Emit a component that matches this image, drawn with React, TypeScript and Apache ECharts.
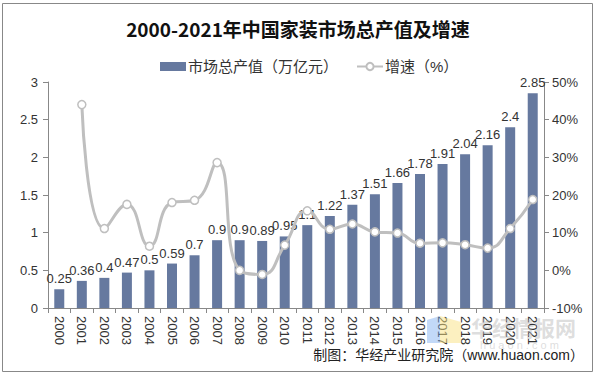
import React, { useEffect, useRef } from "react";
import * as echarts from "echarts";

const years = ["2000","2001","2002","2003","2004","2005","2006","2007","2008","2009","2010","2011","2012","2013","2014","2015","2016","2017","2018","2019","2020","2021"];
const output = [0.25,0.36,0.4,0.47,0.5,0.59,0.7,0.9,0.9,0.89,0.95,1.1,1.22,1.37,1.51,1.66,1.78,1.91,2.04,2.16,2.4,2.85];
const growth = [null,44.0,11.1,17.5,6.4,18.0,18.6,28.6,0.0,-1.1,6.7,15.8,10.9,12.3,10.2,9.9,7.2,7.3,6.8,5.9,11.1,18.8];
const leftTicks = { min: 0, max: 3, interval: 0.5 };
const rightTicks = { min: -10, max: 50, interval: 10 };

export default function App() {
  const ref = useRef<HTMLDivElement>(null);
  useEffect(() => {
    const chart = echarts.init(ref.current!, null, { renderer: "svg" });
    const font = "Arial, 'Liberation Sans', 'Noto Sans CJK SC', sans-serif";
    chart.setOption({
      animation: false,
      backgroundColor: "#fff",
      textStyle: { fontFamily: font },
      title: {
        text: "2000-2021年中国家装市场总产值及增速",
        left: "center",
        top: 14,
        textStyle: { fontSize: 19, fontWeight: "bold", color: "#111", fontFamily: "'Noto Sans CJK SC', serif" },
      },
      legend: {
        top: 54,
        left: 155,
        itemGap: 18,
        itemWidth: 26,
        itemHeight: 9,
        textStyle: { fontSize: 15, color: "#333", fontFamily: font, padding: [0, 0, 0, -3] },
        data: [
          { name: "市场总产值（万亿元）", icon: "rect" },
          { name: "增速（%）" },
        ],
      },
      grid: { left: 48, right: 52, top: 82, bottom: 68 },
      xAxis: {
        type: "category",
        data: years,
        axisLine: { lineStyle: { color: "#888" } },
        axisTick: { show: true, alignWithLabel: false, length: 5, lineStyle: { color: "#888" } },
        axisLabel: { rotate: -90, fontSize: 13, color: "#333", margin: 8, interval: 0 },
      },
      yAxis: [
        {
          type: "value",
          ...leftTicks,
          axisLine: { show: true, lineStyle: { color: "#888" } },
          axisTick: { show: true, length: 5, lineStyle: { color: "#888" } },
          splitLine: { show: false },
          axisLabel: { fontSize: 13, color: "#333", margin: 10 },
        },
        {
          type: "value",
          ...rightTicks,
          axisLine: { show: true, lineStyle: { color: "#888" } },
          axisTick: { show: true, length: 5, lineStyle: { color: "#888" } },
          splitLine: { show: false },
          axisLabel: { fontSize: 13, color: "#333", margin: 8, formatter: "{value}%" },
        },
      ],
      series: [
        {
          name: "市场总产值（万亿元）",
          type: "bar",
          data: output,
          barWidth: 10,
          itemStyle: { color: "#66799F" },
          label: { show: true, position: "top", fontSize: 13, color: "#333", distance: 4 },
        },
        {
          name: "增速（%）",
          type: "line",
          yAxisIndex: 1,
          data: growth,
          smooth: true,
          symbol: "circle",
          symbolSize: 8,
          lineStyle: { color: "#BFBFBF", width: 3 },
          itemStyle: { color: "#fff", borderColor: "#BFBFBF", borderWidth: 1.5 },
        },
      ],
      graphic: [
        {
          type: "rect",
          shape: { x: 2.5, y: 3.5, width: 590, height: 368 },
          style: { fill: "none", stroke: "#888", lineWidth: 1 },
          silent: true,
        },
        {
          type: "polygon",
          shape: { points: [[427, 320], [440, 316], [440, 343], [427, 343]] },
          style: { fill: "rgba(120,170,240,0.45)" },
          silent: true,
          z: 10,
        },
        {
          type: "polygon",
          shape: { points: [[440, 316], [461, 322], [461, 343], [440, 343]] },
          style: { fill: "rgba(250,225,130,0.5)" },
          silent: true,
          z: 10,
        },
        {
          type: "text",
          left: 471,
          top: 316,
          style: { text: "华经情报网", fontSize: 21, fontWeight: "bold", fill: "rgba(180,180,180,0.45)", fontFamily: "'Noto Sans CJK SC', sans-serif" },
          silent: true,
          z: 10,
        },
        {
          type: "text",
          left: 480,
          top: 339,
          style: { text: "h u a o n . c o m", fontSize: 11, fill: "rgba(180,180,180,0.45)", fontFamily: font },
          silent: true,
          z: 10,
        },
        {
          type: "text",
          right: 12,
          top: 348,
          style: { text: "制图：华经产业研究院（www.huaon.com）", fontSize: 14, fill: "#222", fontFamily: font },
          z: 11,
        },
      ],
    });
    return () => chart.dispose();
  }, []);
  return <div ref={ref} style={{ position: "fixed", left: 0, top: 0, width: 596, height: 376 }} />;
}
